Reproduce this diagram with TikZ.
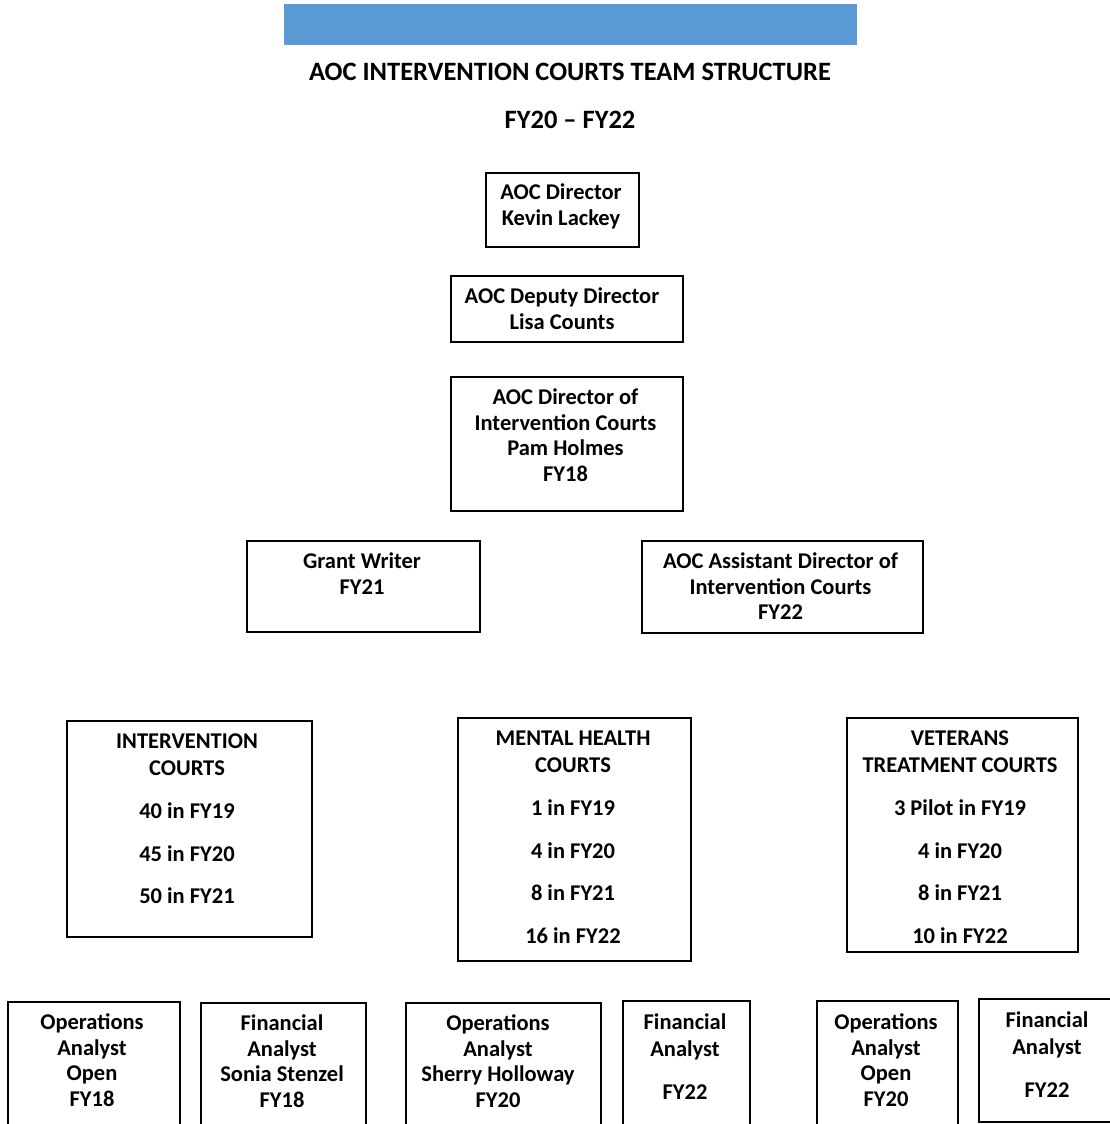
\documentclass[tikz,border=0pt]{standalone}
\usepackage{fontspec}
\setmainfont{Carlito}
\usetikzlibrary{fit}
\definecolor{barblue}{HTML}{5B9BD5}
\newcommand\tstr{\rule{0pt}{18pt}}
\tikzset{
  box/.style={draw=black, line width=1.3pt, inner sep=0pt, fill=none},
  txt/.style={anchor=north, align=center, inner sep=0pt, yshift=-1.5pt,
    font=\fontsize{22.5pt}{25.5pt}\selectfont\bfseries},
  ttl/.style={anchor=base, inner sep=0pt,
    font=\fontsize{26.5pt}{30pt}\selectfont\bfseries},
}
\begin{document}
\begin{tikzpicture}[x=1pt,y=-1pt]
\clip (0,0) rectangle (1110,1124);
\fill[white] (0,0) rectangle (1110,1124);
% header bar and titles
\node[fill=barblue, inner sep=0pt, fit={(284,4) (857,45)}] (bar) {};
\node[ttl] (title) at (570,80.5) {AOC INTERVENTION COURTS TEAM STRUCTURE};
\node[ttl] (years) at (570,128.5) {FY20 – FY22};
% boxes
\node[box, fit={(486,173) (639,247)}] (dir) {};
\node[txt] (dirT) at (561,180) {\tstr AOC Director\\Kevin Lackey};
\node[box, fit={(451,276) (683,342)}] (dep) {};
\node[txt] (depT) at (562,284) {\tstr AOC Deputy Director\\Lisa Counts};
\node[box, fit={(451,377) (683,511)}] (dic) {};
\node[txt] (dicT) at (565.5,385) {\tstr AOC Director of\\Intervention Courts\\Pam Holmes\\FY18};
\node[box, fit={(247,541) (480,632)}] (grant) {};
\node[txt] (grantT) at (362,549) {\tstr Grant Writer\\FY21};
\node[box, fit={(642,541) (923,633)}] (asst) {};
\node[txt] (asstT) at (780.5,549) {\tstr AOC Assistant Director of\\Intervention Courts\\FY22};
% courts
\node[box, fit={(67,721) (312,937)}] (ic) {};
\node[txt] (icT) at (187,729) {\tstr INTERVENTION\\[1.5pt]COURTS\\[17.5pt]40 in FY19\\[17.5pt]45 in FY20\\[16.5pt]50 in FY21};
\node[box, fit={(458,718) (691,961)}] (mh) {};
\node[txt] (mhT) at (573,726) {\tstr MENTAL HEALTH\\[1.5pt]COURTS\\[17.5pt]1 in FY19\\[17.5pt]4 in FY20\\[16.5pt]8 in FY21\\[17.5pt]16 in FY22};
\node[box, fit={(847,718) (1078,952)}] (vt) {};
\node[txt] (vtT) at (960,726) {\tstr VETERANS\\[1.5pt]TREATMENT COURTS\\[17.5pt]3 Pilot in FY19\\[17.5pt]4 in FY20\\[16.5pt]8 in FY21\\[17.5pt]10 in FY22};
% analysts
\node[box, fit={(8,1002) (180,1140)}] (b1) {};
\node[txt] (b1T) at (92,1010) {\tstr Operations\\Analyst\\Open\\FY18};
\node[box, fit={(201,1003) (366,1140)}] (b2) {};
\node[txt] (b2T) at (282,1011) {\tstr Financial\\Analyst\\Sonia Stenzel\\FY18};
\node[box, fit={(406,1003) (601,1140)}] (b3) {};
\node[txt] (b3T) at (498,1011) {\tstr Operations\\Analyst\\Sherry Holloway\\FY20};
\node[box, fit={(623,1001) (750,1140)}] (b4) {};
\node[txt] (b4T) at (685,1010) {\tstr Financial\\[1.5pt]Analyst\\[17.5pt]FY22};
\node[box, fit={(817,1001) (958,1140)}] (b5) {};
\node[txt] (b5T) at (886,1010) {\tstr Operations\\Analyst\\Open\\FY20};
\node[box, fit={(979,999) (1114,1122)}] (b6) {};
\node[txt] (b6T) at (1047,1008) {\tstr Financial\\[1.5pt]Analyst\\[17.5pt]FY22};
\end{tikzpicture}
\end{document}
